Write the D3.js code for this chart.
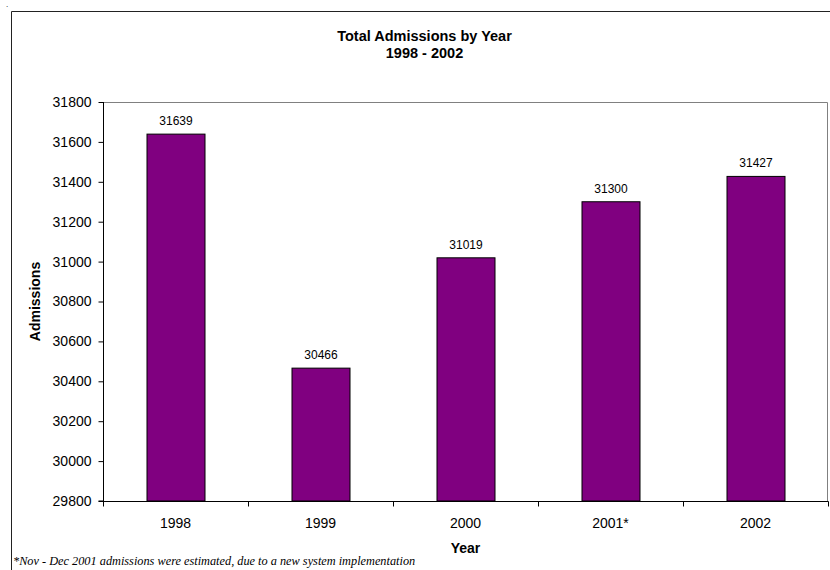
<!DOCTYPE html>
<html><head><meta charset="utf-8">
<script src="https://cdn.jsdelivr.net/npm/d3@7"></script>
<style>body{margin:0;background:#fff}svg{display:block}</style>
</head><body>
<svg id="c" width="830" height="570"></svg>
<script>
const categories = ["1998","1999","2000","2001*","2002"];
const admissions = [31639,30466,31019,31300,31427];
const yTicks = [29800,30000,30200,30400,30600,30800,31000,31200,31400,31600,31800];
const titleLines = ["Total Admissions by Year","1998 - 2002"];
const xTitle = "Year", yTitle = "Admissions";
const footnote = "*Nov - Dec 2001 admissions were estimated, due to a new system implementation";

const svg = d3.select("#c");
const L = 103, R = 828, T = 102, B = 501;
const x = d3.scaleBand().domain(categories).range([L, R]).paddingInner(0.6).paddingOuter(0.3);
const y = d3.scaleLinear().domain([29800, 31800]).range([B, T]);
const font = "'Liberation Sans', Arial, sans-serif";

// outer frame
svg.append("path").attr("d", `M11.5,570 V11.5 H830`).attr("fill","none").attr("stroke","#222").attr("stroke-width",1);
svg.append("text").attr("x",6).attr("y",7).attr("font-size",8).attr("font-family",font).text(".");

// plot border (gray top/right)
svg.append("path").attr("d", `M${L},${T+0.5} H${R-0.5} V${B}`).attr("fill","none").attr("stroke","#808080");

// bars
svg.selectAll("rect.bar").data(admissions).join("rect").attr("class","bar")
  .attr("x",(d,i)=>x(categories[i])+0.5).attr("width",x.bandwidth())
  .attr("y",d=>y(d)).attr("height",d=>B-y(d))
  .attr("fill","#800080").attr("stroke","#000").attr("stroke-width",1);

// value labels
svg.selectAll("text.val").data(admissions).join("text").attr("class","val")
  .attr("x",(d,i)=>x(categories[i])+x.bandwidth()/2+0.5).attr("y",d=>y(d)-9)
  .attr("text-anchor","middle").attr("font-family",font).attr("font-size",12).attr("fill","#000").text(d=>d);

// y axis
const yAxis = d3.axisLeft(y).tickValues(yTicks).tickSize(5).tickPadding(7).tickFormat(d3.format("d"));
const gy = svg.append("g").attr("transform",`translate(${L+0.5},0)`).call(yAxis);
gy.select(".domain").attr("stroke","#000").attr("d",`M-5,${B}H0V${T}`);
gy.selectAll(".tick line").attr("stroke","#000");
gy.selectAll(".tick text").attr("font-family",font).attr("font-size",14).attr("fill","#000");

// x axis
const xTickScale = d3.scaleLinear().domain([0,categories.length]).range([L,R]);
const gx = svg.append("g").attr("transform",`translate(0,${B+0.5})`);
gx.append("line").attr("x1",L).attr("x2",R+0.5).attr("stroke","#000");
gx.selectAll("line.t").data(d3.range(categories.length+1)).join("line").attr("class","t")
  .attr("x1",d=>Math.round(xTickScale(d))+0.5).attr("x2",d=>Math.round(xTickScale(d))+0.5).attr("y1",0).attr("y2",5).attr("stroke","#000");
gx.selectAll("text").data(categories).join("text")
  .attr("x",d=>x(d)+x.bandwidth()/2).attr("y",26).attr("text-anchor","middle")
  .attr("font-family",font).attr("font-size",14).attr("fill","#000").text(d=>d);

// titles
svg.selectAll("text.title").data(titleLines).join("text").attr("class","title")
  .attr("x",424.5).attr("y",(d,i)=>41+i*17).attr("text-anchor","middle")
  .attr("font-family",font).attr("font-size",14.5).attr("font-weight","bold").text(d=>d);
svg.append("text").attr("x",(L+R)/2).attr("y",553).attr("text-anchor","middle")
  .attr("font-family",font).attr("font-size",14).attr("font-weight","bold").text(xTitle);
svg.append("text").attr("transform",`translate(40,${(T+B)/2}) rotate(-90)`).attr("text-anchor","middle")
  .attr("font-family",font).attr("font-size",14).attr("font-weight","bold").text(yTitle);
svg.append("text").attr("x",13).attr("y",565)
  .attr("font-family","'Liberation Serif','Times New Roman',serif").attr("font-style","italic").attr("font-size",12.3).text(footnote);
</script>
</body></html>
